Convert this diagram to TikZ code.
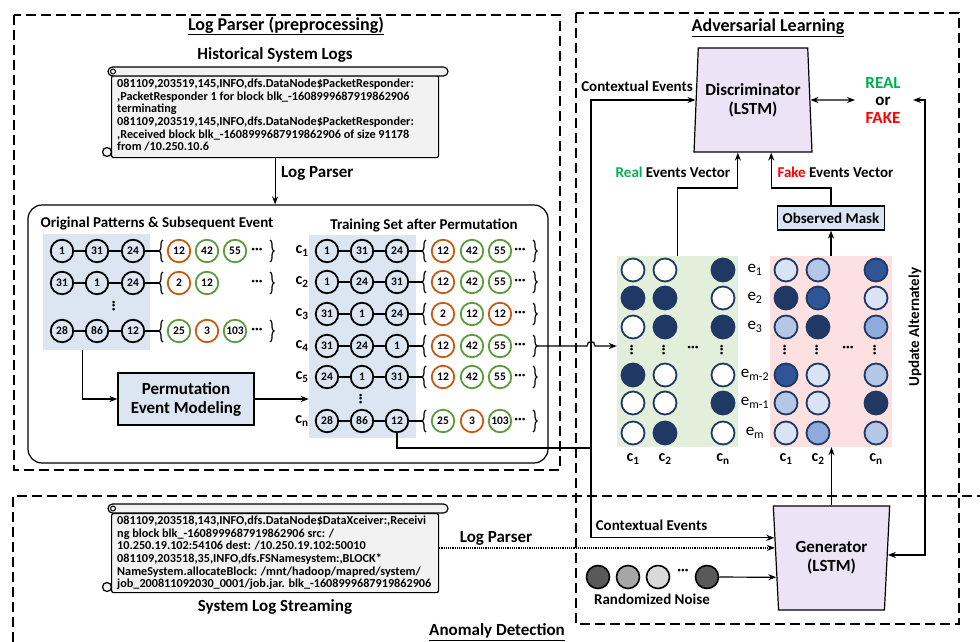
\documentclass[tikz,border=0pt]{standalone}
\usepackage{fontspec}
\setmainfont{Carlito}
\usetikzlibrary{arrows.meta,decorations.pathreplacing,calc,shapes.geometric}
\newcommand{\myfs}[1]{\fontsize{#1}{#1}\selectfont}
\definecolor{navy}{HTML}{1F3864}
\definecolor{bltwo}{HTML}{2F5597}
\definecolor{blthree}{HTML}{8FAADC}
\definecolor{blfour}{HTML}{B4C7E7}
\definecolor{blfive}{HTML}{DAE3F3}
\definecolor{ocol}{HTML}{C55A11}
\definecolor{gcol}{HTML}{5B9B3B}
\definecolor{realg}{HTML}{00B050}
\definecolor{fakr}{HTML}{FF0000}
\definecolor{lblue}{HTML}{DCE6F2}
\definecolor{lgreen}{HTML}{E2EFDA}
\definecolor{lpink}{HTML}{FDE1E1}
\definecolor{lav}{HTML}{EDE3F7}
\definecolor{scg}{HTML}{F2F2F2}
\definecolor{maskb}{HTML}{DAE3F3}
\definecolor{nA}{HTML}{595959}
\definecolor{nB}{HTML}{A6A6A6}
\definecolor{nC}{HTML}{D9D9D9}
\tikzset{
  every node/.style={font=\bfseries},
  dbox/.style={dash pattern=on 10pt off 5pt, line width=1.3pt},
  ln/.style={line width=1.2pt},
  arr/.style={ln, -{Stealth[length=8pt,width=6pt]}},
  darr/.style={ln, {Stealth[length=8pt,width=6pt]}-{Stealth[length=8pt,width=6pt]}},
  ev/.style={circle, draw, line width=1.8pt, minimum size=22.5pt, inner sep=0pt, font=\bfseries\myfs{11.5}},
  mc/.style={circle, draw=navy, line width=1.8pt, minimum size=23pt, inner sep=0pt},
  nc/.style={circle, draw=black, line width=1.6pt, minimum size=23pt, inner sep=0pt},
  lbl/.style={font=\bfseries\myfs{15}, inner sep=0pt},
  big/.style={font=\bfseries\myfs{17}, inner sep=0pt},
  obrace/.style={decorate, decoration={brace, amplitude=4pt}, line width=1.2pt},
  scfill/.style={draw, line width=1.2pt, fill=scg},
  dotsh/.style={font=\bfseries\myfs{14}, inner sep=0pt},
  sctext/.style={anchor=north west, align=left, inner sep=0pt, font=\bfseries\fontsize{12.2}{12.6}\selectfont},
  lstm/.style={trapezium, trapezium stretches=true, draw, fill=lav, line width=1.2pt, align=center, inner sep=0pt, font=\bfseries\fontsize{17}{19}\selectfont},
}
\begin{document}
\begin{tikzpicture}[x=1pt,y=-1pt]
\useasboundingbox (0,0) rectangle (980,642);

% ---------- dashed frames ----------
\draw[dbox] (14,15) rectangle (560,470);
\draw[dbox] (576,13) rectangle (959,624);
\draw[dbox] (13,642) -- (13,496) -- (980,496);

\node[big, font=\bfseries\myfs{18}] (t1) at (286,26) {\underline{Log Parser (preprocessing)}};
\node[big] (t2) at (275,55) {Historical System Logs};
\node[big, font=\bfseries\myfs{18}] (t3) at (768,28) {\underline{Adversarial Learning}};
\node[big] (t4) at (497,632) {\underline{Anomaly Detection}};

% ---------- top scroll ----------
\node[scfill, minimum width=327pt, minimum height=82pt, anchor=north west, inner sep=0pt, rounded corners=2pt] (sc1) at (111,75) {};
\draw[scfill, rounded corners=4.5pt] (108,67) rectangle (448,76);
\draw[line width=1pt] (113,71.5) circle (2.5);
\draw[scfill] (107,152) circle (4.5);
\node[sctext] (sc1t) at (117,79) {081109,203519,145,INFO,dfs.DataNode\$PacketResponder:\\
,PacketResponder 1 for block blk\_-1608999687919862906\\
terminating\\
081109,203519,145,INFO,dfs.DataNode\$PacketResponder:\\
,Received block blk\_-1608999687919862906 of size 91178\\
from /10.250.10.6};

% ---------- rounded box ----------
\node[draw, rounded corners=14pt, line width=1.2pt, minimum width=520pt, minimum height=258pt, inner sep=0pt] (rbox) at (288,334) {};
\draw[arr] (sc1.south) -- (sc1.south |- rbox.north);
\node[big, anchor=west] (lp1) at (281,173) {Log Parser};

\node[lbl] (h1) at (157,224) {Original Patterns \& Subsequent Event};
\node[lbl] (h2) at (424,225) {Training Set after Permutation};

% left patterns
\node[fill=lblue, minimum width=107pt, minimum height=116pt, inner sep=0pt] (lrect) at (96.5,292) {};
\foreach \r/\y/\a/\b/\c in {1/251/1/31/24, 2/283/31/1/24, 3/331/28/86/12}{
  \node[ev] (La\r) at (62,\y) {\a};
  \node[ev] (Lb\r) at (97,\y) {\b};
  \node[ev] (Lc\r) at (133,\y) {\c};
  \coordinate (Lo\r) at (159,\y);
  \draw[ln] (La\r) -- (Lb\r) -- (Lc\r) -- (Lo\r);
  \draw[obrace] (163,\y+11) -- (163,\y-11);
  \draw[obrace] (270,\y-11) -- (270,\y+11);
  \node[dotsh] (Ld\r) at (257,\y) {···};
}
\node[ev, draw=ocol] (Le11) at (179,251) {12};
\node[ev, draw=gcol] (Le12) at (207,251) {42};
\node[ev, draw=gcol] (Le13) at (235,251) {55};
\node[ev, draw=ocol] (Le21) at (179,283) {2};
\node[ev, draw=gcol] (Le22) at (207,283) {12};
\node[ev, draw=gcol] (Le31) at (179,331) {25};
\node[ev, draw=ocol] (Le32) at (207,331) {3};
\node[ev, draw=gcol] (Le33) at (235,331) {103};
\node[dotsh, rotate=90] (Lvd) at (115,306) {···};

% permutation box
\node[draw, fill=lblue, line width=1.2pt, minimum width=136pt, minimum height=52pt, align=center, inner sep=0pt, font=\bfseries\fontsize{17}{19}\selectfont] (perm) at (186,399) {Permutation\\Event Modeling};
\draw[arr] ([xshift=40pt]lrect.south west) |- (perm.west);

% training set
\node[fill=lblue, minimum width=107pt, minimum height=203pt, inner sep=0pt] (trect) at (362.5,336.5) {};
\draw[arr] (perm.east) -- (perm.east -| trect.west);
\foreach \r/\y/\a/\b/\c/\ca/\ta/\cb/\tb/\cc/\tc in {
  1/251/1/31/24/ocol/12/gcol/42/gcol/55,
  2/282/1/24/31/ocol/12/gcol/42/gcol/55,
  3/314/31/1/24/ocol/2/gcol/12/ocol/12,
  4/346/31/24/1/ocol/12/gcol/42/gcol/55,
  5/377/24/1/31/ocol/12/gcol/42/gcol/55,
  n/421/28/86/12/gcol/25/ocol/3/gcol/103}{
  \node[font=\bfseries\myfs{16}, inner sep=0pt] (Tl\r) at (302,\y) {c\textsubscript{\r}};
  \node[ev] (Ta\r) at (327,\y) {\a};
  \node[ev] (Tb\r) at (362,\y) {\b};
  \node[ev] (Tc\r) at (397,\y) {\c};
  \coordinate (To\r) at (422,\y);
  \coordinate (Tr\r) at (537,\y);
  \draw[ln] (Ta\r) -- (Tb\r) -- (Tc\r) -- (To\r);
  \draw[obrace] (426,\y+11) -- (426,\y-11);
  \draw[obrace] (533,\y-11) -- (533,\y+11);
  \node[ev, draw=\ca] (Te\r a) at (443,\y) {\ta};
  \node[ev, draw=\cb] (Te\r b) at (472,\y) {\tb};
  \node[ev, draw=\cc] (Te\r c) at (500,\y) {\tc};
  \node[dotsh] (Td\r) at (520,\y) {···};
}
\node[dotsh, rotate=90] (Tvd) at (362,399) {···};

% ---------- matrices ----------
\node[fill=lgreen, minimum width=121pt, minimum height=191pt, inner sep=0pt] (gmat) at (677.5,351.5) {};
\node[fill=lpink, minimum width=122pt, minimum height=191pt, inner sep=0pt] (pmat) at (831,351.5) {};
\foreach \r/\y/\ga/\gb/\gc/\pa/\pb/\pc in {
  1/270/white/white/navy/blfive/blfour/bltwo,
  2/298/navy/navy/white/navy/bltwo/blfive,
  3/327/white/navy/navy/blfour/navy/blthree,
  4/375/navy/white/white/bltwo/blfive/blfour,
  5/403/white/white/navy/blfour/blfive/navy,
  6/433/white/navy/white/blfive/blthree/blfour}{
  \node[mc, fill=\ga] (GA\r) at (633,\y) {};
  \node[mc, fill=\gb] (GB\r) at (665,\y) {};
  \node[mc, fill=\gc] (GC\r) at (723,\y) {};
  \node[mc, fill=\pa] (PA\r) at (786,\y) {};
  \node[mc, fill=\pb] (PB\r) at (818,\y) {};
  \node[mc, fill=\pc] (PC\r) at (876,\y) {};
}
\foreach \x/\n in {633/a,665/b,723/c,786/d,818/e,876/f}{
  \node[dotsh, rotate=90] (vd\n) at (\x,350) {···};
}
\node[dotsh] (hdg) at (693,349) {···};
\node[dotsh] (hdp) at (848,349) {···};
\foreach \y/\t/\n in {270/1/1, 298/2/2, 327/3/3, 375/m-2/4, 403/m-1/5, 433/m/6}{
  \node[font=\myfs{17}, inner sep=0pt] (el\n) at (755,\y) {e\textsubscript{\t}};
}
\foreach \x/\t/\n in {633/1/a, 665/2/b, 723/n/c, 786/1/d, 818/2/e, 876/n/f}{
  \node[font=\bfseries\myfs{16}, inner sep=0pt] (cl\n) at (\x,459) {c\textsubscript{\t}};
}

% ---------- discriminator / generator ----------
\node[lstm, trapezium left angle=83.7, trapezium right angle=83.7, minimum width=118pt, minimum height=104pt] (disc) at (753,100) {Discriminator\\(LSTM)};
\node[lstm, trapezium left angle=96.2, trapezium right angle=96.2, minimum width=117pt, minimum height=104pt] (gen) at (831.5,558) {Generator\\(LSTM)};

\coordinate (D1) at ($(disc.top left corner)!0.5!(disc.bottom left corner)$);
\coordinate (D2) at ($(disc.top right corner)!0.5!(disc.bottom right corner)$);
\coordinate (DR) at ($(disc.bottom left corner)!0.373!(disc.bottom right corner)$);
\coordinate (DF) at ($(disc.bottom left corner)!0.653!(disc.bottom right corner)$);
\coordinate (G1) at ($(gen.top left corner)!0.308!(gen.bottom left corner)$);
\coordinate (G2) at ($(gen.top left corner)!0.404!(gen.bottom left corner)$);
\coordinate (G3) at ($(gen.top left corner)!0.683!(gen.bottom left corner)$);
\coordinate (G4) at ($(gen.top right corner)!0.471!(gen.bottom right corner)$);
\coordinate (GT) at ($(gen.top left corner)!0.5!(gen.top right corner)$);

\node[font=\bfseries\fontsize{17}{17.5}\selectfont, align=center, inner sep=0pt] (rf) at (883,100) {\textcolor{realg}{REAL}\\or\\\textcolor{fakr}{FAKE}};
\coordinate (RL) at (855,100);
\coordinate (RO) at (913,100);
\coordinate (UA) at (925,100);
\draw[darr] (D2) -- (RL);
\draw[darr] (RO) -- (UA) -- (UA |- G4) -- (G4);
\node[lbl, rotate=90] (upd) at (915,327) {Update Alternately};

% mask and vectors
\node[draw, fill=maskb, line width=1.2pt, minimum width=107pt, minimum height=24pt, font=\bfseries\myfs{15}, inner sep=0pt] (mask) at (831,218) {Observed Mask};
\coordinate (VY) at (0,188);
\draw[arr] (gmat.north) -- (gmat.north |- VY) -| (DR);
\draw[arr] (mask.north) -- (mask.north |- VY) -| (DF);
\draw[arr] (pmat.north) -- (mask.south);
\draw[arr] (GT) -- (GT |- pmat.south);
\node[lbl] (rv) at (673,172) {\textcolor{realg}{Real} Events Vector};
\node[lbl] (fv) at (835.5,172) {\textcolor{fakr}{Fake} Events Vector};

% contextual events
\coordinate (cv) at (591,0);
\coordinate (J1) at (591,448);
\draw[ln] (Tcn) -- (Tcn |- J1) -- (J1);
\draw[arr] (J1) |- (D1);
\draw[arr] (J1) |- (G1);
\node[lbl] (ce1) at (637,86) {Contextual Events};
\node[lbl] (ce2) at (651.5,525) {Contextual Events};
\draw[arr] (Tr4) -- ($(Tr4 -| cv)+(-4,0)$) .. controls +(0,-6) and +(0,-6) .. ($(Tr4 -| cv)+(4,0)$) -- (Tr4 -| gmat.west);

% ---------- bottom scroll ----------
\node[scfill, minimum width=327pt, minimum height=79pt, anchor=north west, inner sep=0pt, rounded corners=2pt] (sc2) at (111,513) {};
\draw[scfill, rounded corners=4.5pt] (108,504) rectangle (448,513);
\draw[line width=1pt] (113,508.5) circle (2.5);
\draw[scfill] (107,587) circle (4.5);
\node[sctext] (sc2t) at (117,516) {081109,203518,143,INFO,dfs.DataNode\$DataXceiver:,Receivi\\
ng block blk\_-1608999687919862906 src: /\\
10.250.19.102:54106 dest: /10.250.19.102:50010\\
081109,203518,35,INFO,dfs.FSNamesystem:,BLOCK*\\
NameSystem.allocateBlock: /mnt/hadoop/mapred/system/\\
job\_200811092030\_0001/job.jar. blk\_-1608999687919862906};
\node[big] (sls) at (275,607) {System Log Streaming};
\draw[arr, densely dotted] (sc2.east |- G2) -- (G2);
\node[big] (lp2) at (496,538) {Log Parser};

% noise
\node[nc, fill=nA] (N1) at (598,577) {};
\node[nc, fill=nB] (N2) at (628,577) {};
\node[nc, fill=nC] (N3) at (658,577) {};
\node[dotsh] (Nd) at (683,572) {···};
\node[nc, fill=nA] (N4) at (707,577) {};
\draw[arr] (N4) -- (G3);
\node[lbl] (rn) at (652,599) {Randomized Noise};
\end{tikzpicture}
\end{document}
